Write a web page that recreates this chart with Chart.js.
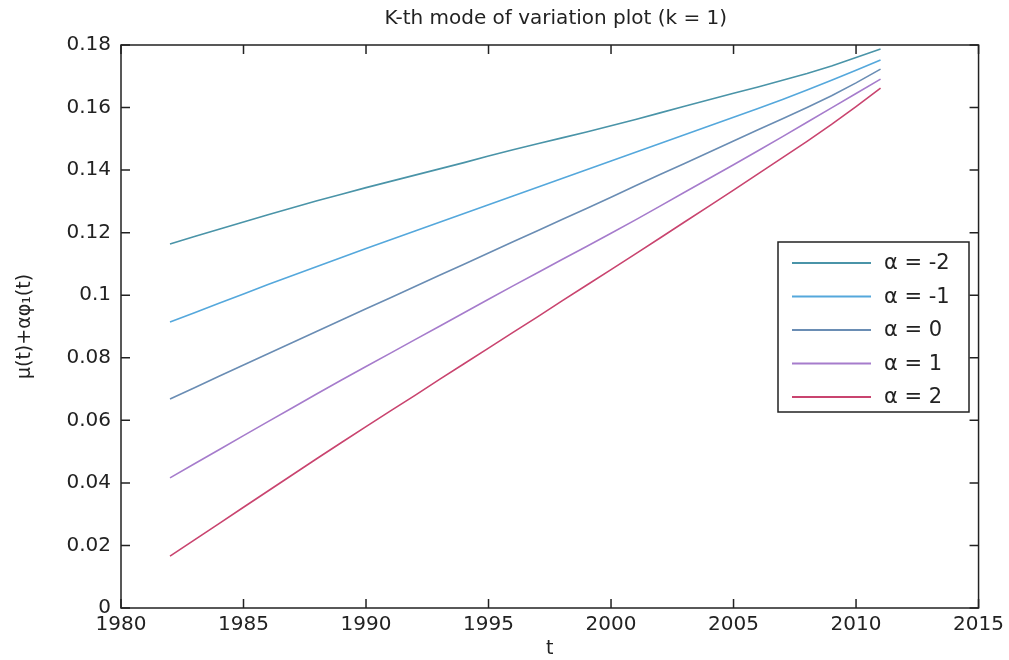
<!DOCTYPE html>
<html>
<head>
<meta charset="utf-8">
<title>K-th mode of variation plot</title>
<script src="https://cdn.jsdelivr.net/npm/chart.js@4.4.1/dist/chart.umd.min.js"></script>
<style>
  body { margin: 0; background: #fff; }
  #wrap { width: 1009px; height: 660px; position: relative; }
</style>
</head>
<body>
<div id="wrap"><canvas id="modeChart" width="1009" height="660"></canvas></div>
<script>
// years on the t axis
var years = [1982, 1983, 1984, 1985, 1986, 1987, 1988, 1989, 1990, 1991,
             1992, 1993, 1994, 1995, 1996, 1997, 1998, 1999, 2000, 2001,
             2002, 2003, 2004, 2005, 2006, 2007, 2008, 2009, 2010, 2011];

// mu(t) + alpha * phi1(t)
var alphaMinus2 = [0.1164, 0.1188, 0.1211, 0.1234, 0.1257, 0.1280, 0.1302, 0.1323, 0.1344, 0.1364,
                   0.1384, 0.1404, 0.1424, 0.1445, 0.1465, 0.1484, 0.1503, 0.1522, 0.1542, 0.1562,
                   0.1583, 0.1604, 0.1625, 0.1646, 0.1666, 0.1687, 0.1709, 0.1733, 0.1760, 0.1787];
var alphaMinus1 = [0.0914, 0.0944, 0.0974, 0.1004, 0.1034, 0.1063, 0.1092, 0.1121, 0.1149, 0.1177,
                   0.1205, 0.1233, 0.1261, 0.1289, 0.1317, 0.1345, 0.1373, 0.1401, 0.1429, 0.1457,
                   0.1485, 0.1513, 0.1541, 0.1569, 0.1597, 0.1626, 0.1656, 0.1687, 0.1719, 0.1752];
var alphaZero   = [0.0668, 0.0704, 0.0741, 0.0777, 0.0813, 0.0849, 0.0885, 0.0921, 0.0957, 0.0992,
                   0.1028, 0.1064, 0.1099, 0.1135, 0.1171, 0.1206, 0.1242, 0.1277, 0.1313, 0.1350,
                   0.1386, 0.1421, 0.1457, 0.1493, 0.1529, 0.1564, 0.1600, 0.1638, 0.1679, 0.1723];
var alphaPlus1  = [0.0416, 0.0461, 0.0506, 0.0551, 0.0596, 0.0640, 0.0685, 0.0729, 0.0772, 0.0815,
                   0.0858, 0.0901, 0.0944, 0.0987, 0.1030, 0.1072, 0.1114, 0.1156, 0.1198, 0.1241,
                   0.1285, 0.1329, 0.1373, 0.1417, 0.1462, 0.1507, 0.1553, 0.1599, 0.1645, 0.1691];
var alphaPlus2  = [0.0166, 0.0218, 0.0270, 0.0322, 0.0374, 0.0426, 0.0478, 0.0529, 0.0580, 0.0630,
                   0.0680, 0.0731, 0.0781, 0.0831, 0.0881, 0.0931, 0.0982, 0.1032, 0.1082, 0.1132,
                   0.1183, 0.1234, 0.1285, 0.1336, 0.1388, 0.1440, 0.1492, 0.1546, 0.1603, 0.1662];

var seriesLabels = ['\u03b1 = -2', '\u03b1 = -1', '\u03b1 = 0', '\u03b1 = 1', '\u03b1 = 2'];
var seriesColors = ['#4a94a8', '#55a8dc', '#6a8db4', '#a67ccc', '#c9446f'];

var FONT = '"DejaVu Sans", "Liberation Sans", Arial, sans-serif';

var toPoints = function(values) {
    var pts = [];
    for (var i = 0; i < values.length; i++) {
        pts.push({ x: years[i], y: values[i] });
    }
    return pts;
};

var allSeries = [alphaMinus2, alphaMinus1, alphaZero, alphaPlus1, alphaPlus2];
var datasets = [];
for (var s = 0; s < allSeries.length; s++) {
    datasets.push({
        label: seriesLabels[s],
        data: toPoints(allSeries[s]),
        borderColor: seriesColors[s],
        borderWidth: 1.6,
        pointRadius: 0,
        tension: 0,
        fill: false
    });
}

// box, inward ticks, title and legend drawn the matlab way
var matlabFrame = {
    id: 'matlabFrame',
    afterDraw: function(chart) {
        var ctx = chart.ctx;
        var a = chart.chartArea;
        var xs = chart.scales.x;
        var ys = chart.scales.y;
        var tick = 9;

        ctx.save();
        ctx.strokeStyle = '#222';
        ctx.lineWidth = 1.5;
        ctx.strokeRect(a.left, a.top, a.right - a.left, a.bottom - a.top);

        ctx.beginPath();
        xs.ticks.forEach(function(t) {
            var px = xs.getPixelForValue(t.value);
            ctx.moveTo(px, a.bottom); ctx.lineTo(px, a.bottom - tick);
            ctx.moveTo(px, a.top); ctx.lineTo(px, a.top + tick);
        });
        ys.ticks.forEach(function(t) {
            var py = ys.getPixelForValue(t.value);
            ctx.moveTo(a.left, py); ctx.lineTo(a.left + tick, py);
            ctx.moveTo(a.right, py); ctx.lineTo(a.right - tick, py);
        });
        ctx.stroke();

        // title
        ctx.fillStyle = '#222';
        ctx.font = '20px ' + FONT;
        ctx.textAlign = 'center';
        ctx.textBaseline = 'middle';
        ctx.fillText('K-th mode of variation plot (k = 1)', (a.left + a.right) / 2 + 6, 19);

        // legend box
        var lx = 778, ly = 242, lw = 191, lh = 170;
        ctx.fillStyle = '#fff';
        ctx.fillRect(lx, ly, lw, lh);
        ctx.strokeStyle = '#222';
        ctx.lineWidth = 1.5;
        ctx.strokeRect(lx, ly, lw, lh);
        ctx.font = '21px ' + FONT;
        ctx.textAlign = 'left';
        chart.data.datasets.forEach(function(ds, i) {
            var rowY = ly + 21 + i * 33.5;
            ctx.strokeStyle = ds.borderColor;
            ctx.lineWidth = 1.8;
            ctx.beginPath();
            ctx.moveTo(lx + 14, rowY);
            ctx.lineTo(lx + 93, rowY);
            ctx.stroke();
            ctx.fillStyle = '#222';
            ctx.fillText(ds.label, lx + 106, rowY + 1);
        });
        ctx.restore();
    }
};

var fmt = function(v) {
    return parseFloat(v.toFixed(2)).toString();
};

new Chart(document.getElementById('modeChart'), {
    type: 'line',
    data: { datasets: datasets },
    options: {
        responsive: false,
        animation: false,
        layout: { padding: { top: 45, right: 30, left: 0, bottom: 0 } },
        plugins: {
            legend: { display: false },
            title: { display: false },
            tooltip: { enabled: false }
        },
        scales: {
            x: {
                type: 'linear',
                min: 1980,
                max: 2015,
                border: { display: false },
                grid: { display: false, drawTicks: false },
                ticks: {
                    stepSize: 5,
                    padding: 5,
                    color: '#222',
                    maxRotation: 0,
                    font: { family: FONT, size: 20 },
                    callback: function(v) { return String(v); }
                },
                title: {
                    display: true,
                    text: 't',
                    color: '#222',
                    font: { family: FONT, size: 19 },
                    padding: { top: 0, bottom: 0 }
                },
                afterFit: function(scale) { scale.height = 52; }
            },
            y: {
                min: 0,
                max: 0.18,
                border: { display: false },
                grid: { display: false, drawTicks: false },
                ticks: {
                    stepSize: 0.02,
                    padding: 10,
                    color: '#222',
                    font: { family: FONT, size: 20 },
                    callback: function(v) { return fmt(v); }
                },
                title: {
                    display: true,
                    text: '\u03bc(t)+\u03b1\u03c6\u2081(t)',
                    color: '#222',
                    font: { family: FONT, size: 19 },
                    padding: { top: 14, bottom: 0 }
                },
                afterFit: function(scale) { scale.width = 121; }
            }
        }
    },
    plugins: [matlabFrame]
});
</script>
</body>
</html>
